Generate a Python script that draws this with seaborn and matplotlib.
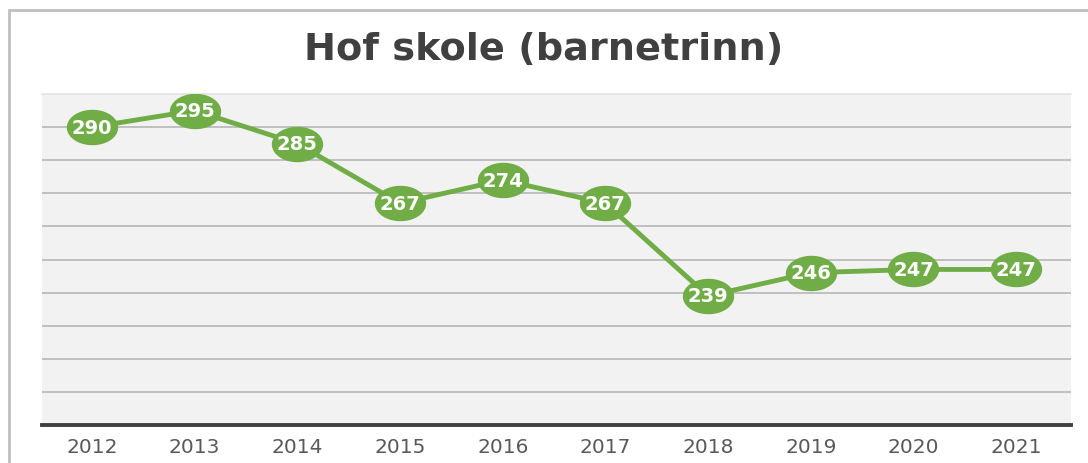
import numpy as np
import pandas as pd
import seaborn as sns
import matplotlib
matplotlib.use("Agg")
import matplotlib.pyplot as plt
from matplotlib.path import Path
from matplotlib.patches import Rectangle

years = [2012, 2013, 2014, 2015, 2016, 2017, 2018, 2019, 2020, 2021]
pupils = [290, 295, 285, 267, 274, 267, 239, 246, 247, 247]
title = "Hof skole (barnetrinn)"

df = pd.DataFrame({"year": years, "pupils": pupils})

sns.set_theme(style="white")
plt.rcParams['font.family'] = ['DejaVu Sans']

fig = plt.figure(figsize=(10.88, 4.64), dpi=100)
fig.patch.set_facecolor("white")
ax = fig.add_axes([42/1088, 38/464, (1071-42)/1088, (426-95)/464])
ax.set_facecolor("#F2F2F2")

# ellipse marker (wider than tall)
t = np.linspace(0, 2*np.pi, 64)
verts = np.column_stack([1.45*np.cos(t), np.sin(t)])
ell = Path(verts, closed=True)

green = "#70AD47"
sns.lineplot(data=df, x="year", y="pupils", ax=ax, color=green, linewidth=3.5,
             marker=ell, markersize=37, markeredgewidth=0,
             markerfacecolor=green, zorder=3)

for x, y in zip(years, pupils):
    ax.text(x, y, str(y), ha="center", va="center", color="white",
            fontsize=14, fontweight="bold", zorder=4)

ax.set_ylim(200, 300)
ax.set_xlim(2012 - 0.487, 2012 + 9.535)
ax.set_yticks(range(210, 300, 10))
ax.yaxis.grid(True, color="#BFBFBF", linewidth=1.4)
ax.set_yticklabels([])
ax.tick_params(axis="y", length=0)
ax.set_xticks(years)
ax.set_xticklabels([str(y) for y in years], fontsize=14.5, color="#595959")
ax.tick_params(axis="x", length=0, pad=9)
ax.set_xlabel("")
ax.set_ylabel("")
for s in ["left", "right"]:
    ax.spines[s].set_visible(False)
ax.spines["top"].set_color("#E3E3E3")
ax.spines["top"].set_linewidth(1.2)
ax.spines["bottom"].set_color("#404040")
ax.spines["bottom"].set_linewidth(2.8)
ax.set_axisbelow(True)

fig.text(0.5, 1 - 50/464, title, ha="center", va="center", fontsize=27.5,
         fontweight="bold", color="#404040")

fig.patches.append(Rectangle((9/1088, -0.2), 1.5, 1.2 - 11/464,
                             transform=fig.transFigure, fill=False,
                             edgecolor="#BFBFBF", linewidth=2, zorder=0))

fig.savefig("out.png", dpi=100)
